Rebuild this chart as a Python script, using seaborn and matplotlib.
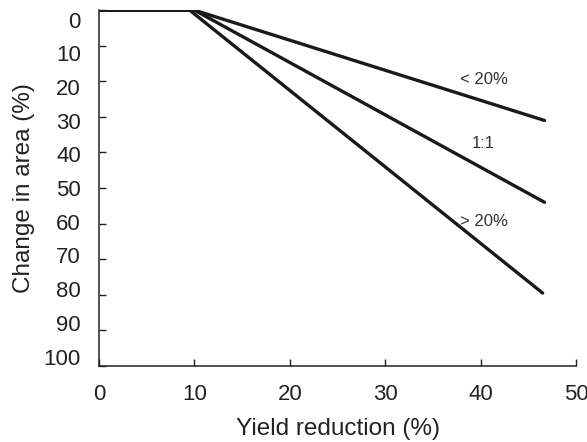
import pandas as pd
import matplotlib.pyplot as plt
import seaborn as sns

# yield reduction (%) vs change in area (%) for three response curves
yield_red = [0, 10, 46.7]
area_lt20 = [0, 0, 31]
area_1to1 = [0, 0, 54]
yield_red_gt20 = [0, 9.5, 46.5]
area_gt20 = [0, 0, 79.5]

curve_names = ["< 20%", "1:1", "> 20%"]
label_x = [40.3, 40.3, 40.3]
label_y = [19.5, 37.5, 59.5]

x_ticks = [0, 10, 20, 30, 40, 50]
y_ticks = [0, 10, 20, 30, 40, 50, 60, 70, 80, 90, 100]

df = pd.concat([
    pd.DataFrame({"x": yield_red, "y": area_lt20, "curve": curve_names[0]}),
    pd.DataFrame({"x": yield_red, "y": area_1to1, "curve": curve_names[1]}),
    pd.DataFrame({"x": yield_red_gt20, "y": area_gt20, "curve": curve_names[2]}),
])

sns.set_style("ticks")
plt.rcParams['font.family'] = ['Liberation Sans', 'DejaVu Sans']
txt = "#222222"

fig = plt.figure(figsize=(5.87, 4.42), dpi=100)
ax = fig.add_axes([0.1687, 0.172, 0.8126, 0.805])

sns.lineplot(data=df, x="x", y="y", units="curve", estimator=None,
             color="#1a1a1a", linewidth=2.4, sort=False, ax=ax)

for name, lx, ly in zip(curve_names, label_x, label_y):
    ax.text(lx, ly, name, ha="center", va="center", fontsize=12, color="#333333")

ax.set_xlim(0, 50)
ax.set_ylim(100, 0)
ax.set_xticks(x_ticks)
ax.set_yticks(y_ticks)
ax.set_yticklabels([])
ax.tick_params(direction="in", length=5, width=1, colors=txt)
ax.tick_params(axis="x", labelsize=16, pad=13)
ax.set_xlabel("Yield reduction (%)", fontsize=17.5, color=txt, labelpad=9)
ax.set_ylabel("")

# y tick labels in the original sit on a slightly compressed scale
lab = ax.twinx()
lab.set_ylim(102.8, -2.8)
lab.set_yticks(y_ticks)
lab.yaxis.tick_left()
lab.yaxis.set_label_position("left")
lab.tick_params(axis="y", length=0, labelsize=16, pad=13, colors=txt)
lab.set_ylabel("Change in area (%)", fontsize=17.5, color=txt, labelpad=6)

for a in (ax, lab):
    for s in ["top", "right"]:
        a.spines[s].set_visible(False)
lab.spines["left"].set_visible(False)
lab.spines["bottom"].set_visible(False)
for s in ["left", "bottom"]:
    ax.spines[s].set_color(txt)
    ax.spines[s].set_linewidth(1.1)

fig.savefig("out.png", dpi=100)
